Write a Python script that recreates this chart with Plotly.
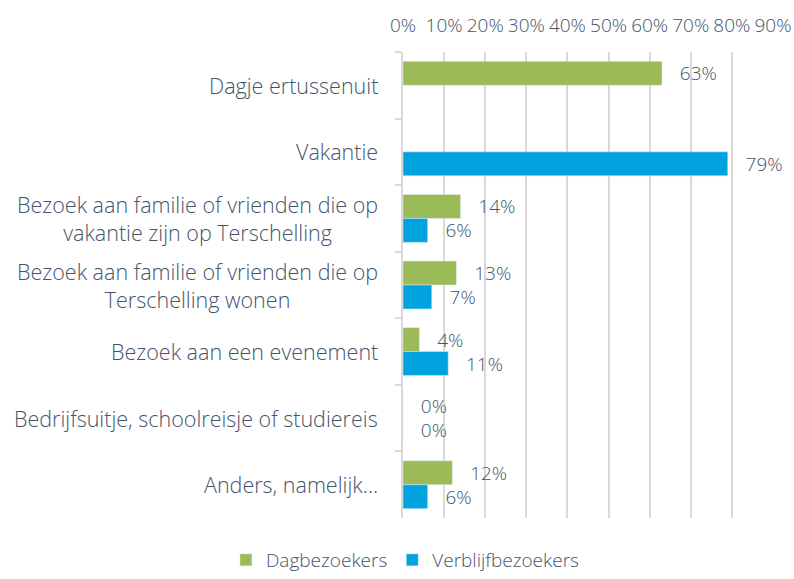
import plotly.graph_objects as go

categories = [
    "Dagje ertussenuit",
    "Vakantie",
    "Bezoek aan familie of vrienden die op<br>vakantie zijn op Terschelling",
    "Bezoek aan familie of vrienden die op<br>Terschelling wonen",
    "Bezoek aan een evenement",
    "Bedrijfsuitje, schoolreisje of studiereis",
    "Anders, namelijk…",
]
dag = [63, None, 14, 13, 4, 0, 12]
verblijf = [None, 79, 6, 7, 11, 0, 6]
x_ticks = [0, 10, 20, 30, 40, 50, 60, 70, 80, 90]

TXT = "#44546A"
FONT = "'Open Sans', Lato, sans-serif"

def fnt(size):
    return dict(size=size, color=TXT, family=FONT, weight=300)

fig = go.Figure()
fig.add_trace(go.Bar(
    y=categories, x=dag, orientation="h", name="Dagbezoekers",
    marker_color="#9BBB59",
    text=[None if v is None else f"{v}%" for v in dag],
    texttemplate="   %{text}", textposition="outside", constraintext="none",
    textfont=fnt(19), cliponaxis=False,
))
fig.add_trace(go.Bar(
    y=categories, x=verblijf, orientation="h", name="Verblijfbezoekers",
    marker_color="#00A3DE",
    text=[None if v is None else f"{v}%" for v in verblijf],
    texttemplate="   %{text}", textposition="outside", constraintext="none",
    textfont=fnt(19), cliponaxis=False,
))

for c in categories:
    fig.add_annotation(
        x=0, xref="paper", y=c, yref="y", text=c, showarrow=False,
        xanchor="right", align="center", xshift=-23,
        font=fnt(21.5),
    )

fig.update_layout(
    width=794, height=579,
    margin=dict(l=403, r=21, t=52, b=61),
    paper_bgcolor="white", plot_bgcolor="white",
    barmode="group", bargap=0.28, bargroupgap=0,
    font=fnt(19),
    showlegend=True,
    legend=dict(orientation="h", xref="container", yref="container",
                x=0.51, xanchor="center", y=0.0, yanchor="bottom",
                font=fnt(19), itemwidth=30, traceorder="normal"),
)
fig.update_xaxes(
    side="top", range=[0, 90], tickvals=x_ticks,
    ticktext=[f"{t}%" for t in x_ticks], tickangle=0,
    showgrid=True, gridcolor="#D9D9D9", gridwidth=1.5,
    zeroline=False, showline=False, ticks="",
    tickfont=fnt(19), automargin=False,
    ticklabelstandoff=15, fixedrange=True,
)
fig.update_yaxes(
    autorange="reversed", showticklabels=False, automargin=False,
    showline=True, linecolor="#D9D9D9", linewidth=1.5,
    ticks="outside", tickson="boundaries", ticklen=6, tickcolor="#D9D9D9",
    tickwidth=1.5, showgrid=False, fixedrange=True,
)
fig.write_html("out.html", config={"displayModeBar": False},
               post_script="document.body.style.margin='0';")
